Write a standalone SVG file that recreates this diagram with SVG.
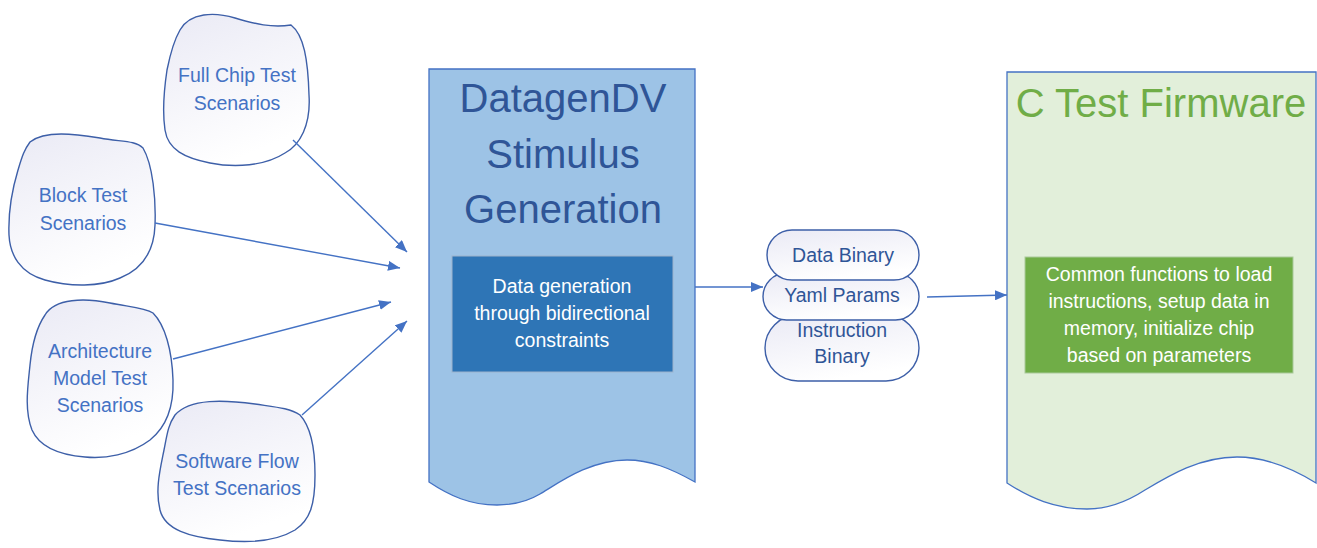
<svg xmlns="http://www.w3.org/2000/svg" width="1317" height="548" viewBox="0 0 1317 548">
<defs>
<linearGradient id="cg" x1="0" y1="0" x2="0.4" y2="1">
<stop offset="0" stop-color="#EAEAF5"/>
<stop offset="1" stop-color="#FFFFFF"/>
</linearGradient>
<marker id="ah" viewBox="0 0 12 10" refX="12" refY="5" markerWidth="12" markerHeight="10" markerUnits="userSpaceOnUse" orient="auto">
<path d="M0,0 L12,5 L0,10 Z" fill="#4472C4"/>
</marker>
<style>
.cloud{fill:url(#cg);stroke:#3D5FA8;stroke-width:1.4}
.ct{font-family:"Liberation Sans",Arial,sans-serif;font-size:19.5px;fill:#4472C4;text-anchor:middle}
.pill{fill:url(#cg);stroke:#3D5FA8;stroke-width:1.4}
.pt{font-family:"Liberation Sans",Arial,sans-serif;font-size:19.5px;fill:#2F5597;text-anchor:middle}
.title{font-family:"Liberation Sans",Arial,sans-serif;font-size:40px;text-anchor:middle}
.wt{font-family:"Liberation Sans",Arial,sans-serif;font-size:19.5px;fill:#FFFFFF;text-anchor:middle}
.conn{stroke:#4472C4;stroke-width:1.4;fill:none;marker-end:url(#ah)}
</style>
</defs>
<rect width="1317" height="548" fill="#FFFFFF"/>

<g id="datagen">
<path d="M429,69 L695,69 L695,482 C670,468 650,460 627,460 C590,460 560,482 540,494 C525,503 510,505 497,505 C470,505 450,496 429,482 Z" fill="#9DC3E6" stroke="#4472C4" stroke-width="1.3"/>
<text class="title" x="563" y="112" fill="#2F5597">DatagenDV</text>
<text class="title" x="563" y="168" fill="#2F5597">Stimulus</text>
<text class="title" x="563" y="223" fill="#2F5597">Generation</text>
</g>

<g id="datagen-inner">
<rect x="452" y="256" width="221" height="116" fill="#2E75B6" stroke="#9DB3CC" stroke-width="1"/>
<text class="wt" x="562" y="293">Data generation</text>
<text class="wt" x="562" y="320">through bidirectional</text>
<text class="wt" x="562" y="347">constraints</text>
</g>

<g id="firmware">
<path d="M1007,72 L1316,72 L1316,483 C1290,467 1265,457 1237,457 C1200,457 1170,475 1145,490 C1125,503 1105,509 1087,509 C1055,509 1030,498 1007,483 Z" fill="#E2EFDA" stroke="#4472C4" stroke-width="1.3"/>
<text class="title" x="1161" y="117" fill="#70AD47">C Test Firmware</text>
</g>

<g id="firmware-inner">
<rect x="1025" y="257" width="268" height="116" fill="#70AD47" stroke="#A9C99A" stroke-width="1"/>
<text class="wt" x="1159" y="281">Common functions to load</text>
<text class="wt" x="1159" y="308">instructions, setup data in</text>
<text class="wt" x="1159" y="335">memory, initialize chip</text>
<text class="wt" x="1159" y="362">based on parameters</text>
</g>

<g id="full-chip">
<path class="cloud" d="M180,30 C190,12 215,12 235,18 C255,24 272,28 291,25 C304,35 308,60 309,95 C311,125 300,145 285,153 C265,166 235,168 210,163 C185,158 168,150 165,130 C162,110 164,90 167,70 C170,55 173,42 180,30 Z"/>
<text class="ct" x="237" y="82">Full Chip Test</text>
<text class="ct" x="237" y="110">Scenarios</text>
</g>

<g id="block">
<path class="cloud" d="M30,142 C45,130 75,134 100,138 C120,142 135,140 143,148 C153,165 156,200 155,225 C154,255 140,270 120,278 C100,287 70,287 45,280 C20,273 10,255 9,235 C8,210 12,190 18,170 C22,157 24,150 30,142 Z"/>
<text class="ct" x="83" y="202">Block Test</text>
<text class="ct" x="83" y="230">Scenarios</text>
</g>

<g id="architecture">
<path class="cloud" d="M45,315 C55,298 85,298 110,303 C130,307 145,308 153,313 C165,325 172,350 173,380 C174,410 165,428 150,440 C130,455 105,459 85,457 C60,455 40,448 32,430 C24,410 28,385 30,365 C32,345 36,328 45,315 Z"/>
<text class="ct" x="100" y="358">Architecture</text>
<text class="ct" x="100" y="385">Model Test</text>
<text class="ct" x="100" y="412">Scenarios</text>
</g>

<g id="software">
<path class="cloud" d="M175,415 C190,398 225,400 255,404 C275,407 290,408 300,415 C312,428 315,450 315,475 C315,505 310,520 295,530 C275,542 245,543 220,540 C190,537 165,530 160,510 C155,490 160,470 164,450 C167,435 168,425 175,415 Z"/>
<text class="ct" x="237" y="468">Software Flow</text>
<text class="ct" x="237" y="495">Test Scenarios</text>
</g>

<g id="instruction-binary">
<rect class="pill" x="765" y="315" width="154" height="66" rx="33" ry="33"/>
<text class="pt" x="842" y="337">Instruction</text>
<text class="pt" x="842" y="363">Binary</text>
</g>
<g id="yaml-params">
<rect class="pill" x="763" y="273" width="156" height="47" rx="23.5" ry="23.5"/>
<text class="pt" x="842" y="302">Yaml Params</text>
</g>
<g id="data-binary">
<rect class="pill" x="767" y="230" width="152" height="50" rx="25" ry="25"/>
<text class="pt" x="843" y="262">Data Binary</text>
</g>

<g id="connectors">
<line class="conn" x1="293" y1="140" x2="407" y2="252"/>
<line class="conn" x1="155" y1="223" x2="400" y2="268"/>
<line class="conn" x1="173" y1="359" x2="391" y2="302"/>
<line class="conn" x1="302" y1="415" x2="407" y2="321"/>
<line class="conn" x1="695" y1="287" x2="763" y2="287"/>
<line class="conn" x1="927" y1="297" x2="1007" y2="295"/>
</g>
</svg>
